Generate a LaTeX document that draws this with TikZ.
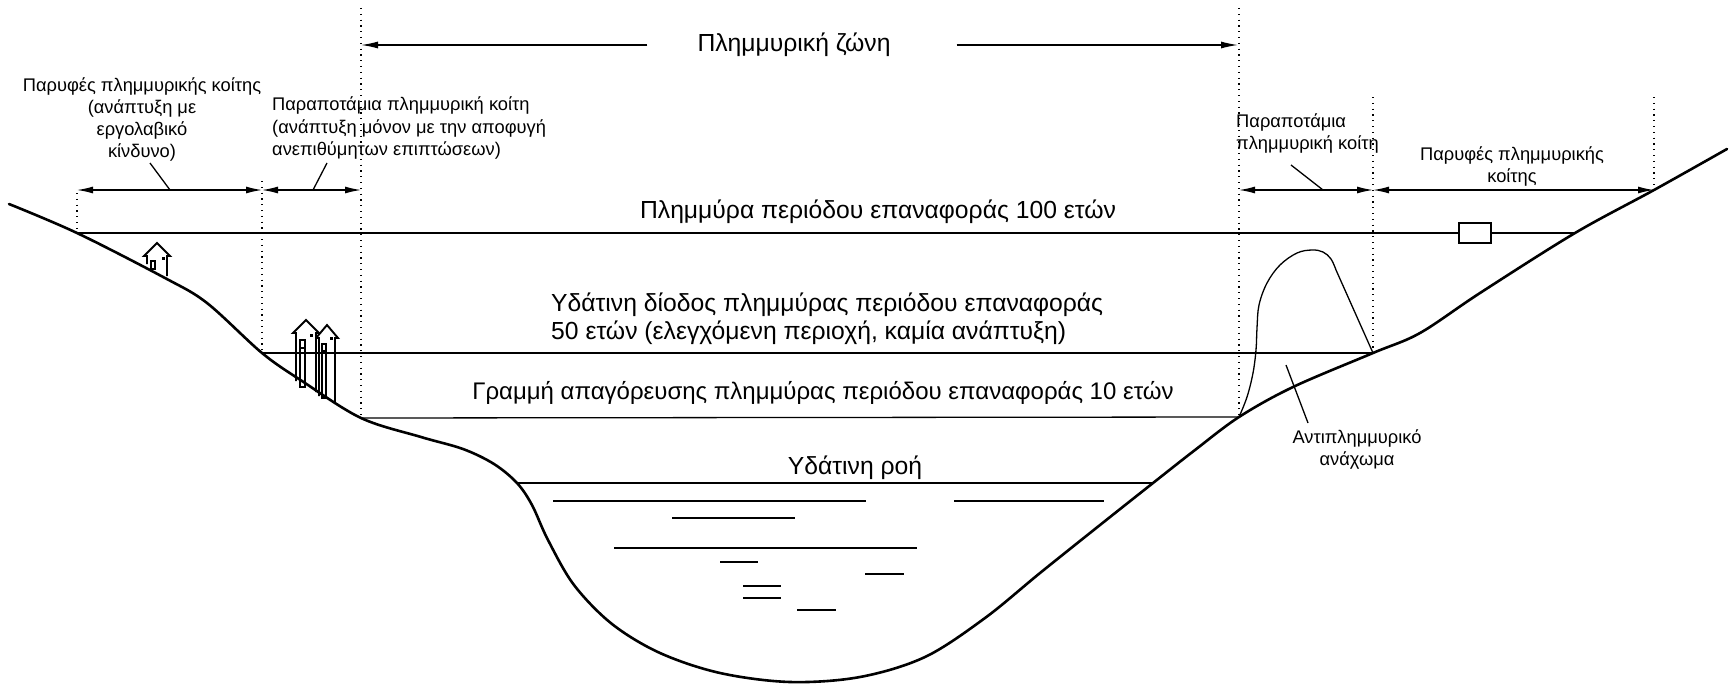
\documentclass[tikz,border=0pt]{standalone}
\usepackage{fontspec}
\setmainfont{Liberation Sans}
\usetikzlibrary{arrows.meta}
\tikzset{
    x=1pt,
    y=-1pt,
    ground/.style={line width=2.6pt, line join=round, line cap=round},
    level/.style={line width=1.3pt},
    guide/.style={line width=1.1pt, dash pattern=on 1.2pt off 4.6pt},
    dim/.style={line width=1.3pt, {Latex[length=16pt,width=7pt]}-{Latex[length=16pt,width=7pt]}},
    oneway/.style={line width=1.3pt, -{Latex[length=17pt,width=7pt]}},
    leader/.style={line width=1.3pt},
    house/.style={line width=1.9pt, line join=miter, fill=white},
    gauge/.style={draw, fill=white, line width=1.3pt, minimum width=32pt, minimum height=20pt, inner sep=0pt},
    biglabel/.style={font=\fontsize{24.7}{28}\selectfont, inner sep=0pt},
    smalllabel/.style={font=\fontsize{18.3}{22}\selectfont, inner sep=0pt},
}
% house: x of ridge, ridge y, half width, ground y left, ground y right
\newcommand{\hut}[5]{%
    \filldraw[house] ({#1-#3},#4) -- ({#1-#3},{#2+13}) -- ({#1-#3-3},{#2+13})
        -- (#1,#2) -- ({#1+#3+3},{#2+13}) -- ({#1+#3},{#2+13}) -- ({#1+#3},#5);
}

\begin{document}
\begin{tikzpicture}
    \useasboundingbox (0,0) rectangle (1731,685);

    % where the levels meet the ground
    \coordinate (g100L) at (77,233);
    \coordinate (g50L) at (262,353);
    \coordinate (g10L) at (361,418);
    \coordinate (gwL) at (517,483);
    \coordinate (gwR) at (1153,483);
    \coordinate (g10R) at (1239,417);
    \coordinate (g50R) at (1373,353);
    \coordinate (g100R) at (1575,233);
    \coordinate (gfR) at (1654,190);

    % houses on the left bank
    \hut{157}{243}{10}{264}{276}
    \draw[house] (151,261) rectangle (155,269);
    \fill (162,257) rectangle ++(3,3);
    \hut{327}{325}{8}{396}{403}
    \draw[house] (322,344) rectangle (326,398);
    \draw[line width=1.5pt] (322,351) -- (326,351);
    \fill (330,337) rectangle ++(3,3);
    \hut{306}{320}{10}{381}{392}
    \draw[house] (300,340) rectangle (305,387);
    \draw[line width=1.5pt] (300,348) -- (305,348);
    \fill (310,334) rectangle ++(3,3);

    % flood levels
    \draw[level] (g100L) -- (g100R);
    \draw[level] (g50L) -- (g50R);
    \draw[level] (g10L) -- (g10R);
    \draw[level] (gwL) -- (gwR);
    \node[gauge] (gauge) at (1475,233) {};

    % ripples
    \foreach \xa/\xb/\y in {553/866/501, 954/1104/501, 672/795/518, 614/917/548,
                            720/758/562, 865/904/574, 743/781/586, 743/781/598, 797/836/610}
        \draw[level] (\xa,\y) -- (\xb,\y);

    % levee
    \draw[level, line join=round] plot[smooth, tension=0.6] coordinates {(g10R) (1247,397) (1253,373)
        (1256,350) (1257,328) (1259,305) (1267,283) (1280,265) (1297,253) (1312,250)
        (1323,252) (1331,259) (1336,270)} -- (g50R);

    % ground
    \draw[ground] plot[smooth, tension=0.55] coordinates {(9,204) (g100L) (165,278) (207,303)
        (g50L) (302,381) (g10L) (421,437) (463,449) (494,464) (gwL) (532,505) (548,540)
        (574,585) (612,624) (660,653) (720,673) (790,682) (860,677) (925,657) (985,618)
        (1040,573) (1100,525) (gwR) (1195,450) (g10R) (1293,387) (g50R) (1420,333)
        (1480,293) (g100R) (gfR) (1727,149)};

    % guide lines
    \draw[guide] (77,193) -- (g100L);
    \draw[guide] (262,181) -- (g50L);
    \draw[guide] (361,8) -- (g10L);
    \draw[guide] (1239,8) -- (g10R);
    \draw[guide] (1373,97) -- (g50R);
    \draw[guide] (1654,97) -- (gfR);

    % zones
    \coordinate (d1) at (77,190);
    \coordinate (d2) at (262,190);
    \coordinate (d3) at (361,190);
    \coordinate (d4) at (1239,190);
    \coordinate (d5) at (1373,190);
    \draw[dim] (d1) -- (d2);
    \draw[dim] (d2) -- (d3);
    \draw[dim] (d4) -- (d5);
    \draw[dim] (d5) -- (gfR);

    \node[biglabel] (zone) at (794,45) {Πλημμυρική ζώνη};
    \coordinate (z1) at (361,45);
    \coordinate (z2) at (1238,45);
    \draw[oneway] ([xshift=-50pt]zone.west) -- (z1);
    \draw[oneway] ([xshift=66pt]zone.east) -- (z2);

    % labels
    \node[smalllabel, align=center] (fringeL) at (142,119)
        {Παρυφές πλημμυρικής κοίτης\\(ανάπτυξη με\\εργολαβικό\\κίνδυνο)};
    \node[smalllabel, align=left, anchor=west] (wayL) at (272,128)
        {Παραποτάμια πλημμυρική κοίτη\\(ανάπτυξη μόνον με την αποφυγή\\ανεπιθύμητων επιπτώσεων)};
    \node[smalllabel, align=left, anchor=west] (wayR) at (1236,134)
        {Παραποτάμια\\πλημμυρική κοίτη};
    \node[smalllabel, align=center] (fringeR) at (1512,166)
        {Παρυφές πλημμυρικής\\κοίτης};
    \node[smalllabel, align=center] (levee) at (1357,449)
        {Αντιπλημμυρικό\\ανάχωμα};

    \node[biglabel] (hundred) at (878,212) {Πλημμύρα περιόδου επαναφοράς 100 ετών};
    \node[biglabel, align=left, anchor=west] (fifty) at (551,319)
        {Υδάτινη δίοδος πλημμύρας περιόδου επαναφοράς\\50 ετών (ελεγχόμενη περιοχή, καμία ανάπτυξη)};
    \node[biglabel, font=\fontsize{24}{28}\selectfont] (ten) at (823,393)
        {Γραμμή απαγόρευσης πλημμύρας περιόδου επαναφοράς 10 ετών};
    \node[biglabel] (stream) at (855,468) {Υδάτινη ροή};

    % leaders
    \coordinate (fringeLa) at (150,163);
    \coordinate (fringeLb) at (170,190);
    \coordinate (wayLa) at (327,163);
    \coordinate (wayLb) at (313,190);
    \coordinate (wayRa) at (1291,165);
    \coordinate (wayRb) at (1323,190);
    \coordinate (leveea) at (1308,423);
    \coordinate (leveeb) at (1286,365);
    \draw[leader] (fringeLa) -- (fringeLb);
    \draw[leader] (wayLa) -- (wayLb);
    \draw[leader] (wayRa) -- (wayRb);
    \draw[leader] (leveea) -- (leveeb);
\end{tikzpicture}
\end{document}
